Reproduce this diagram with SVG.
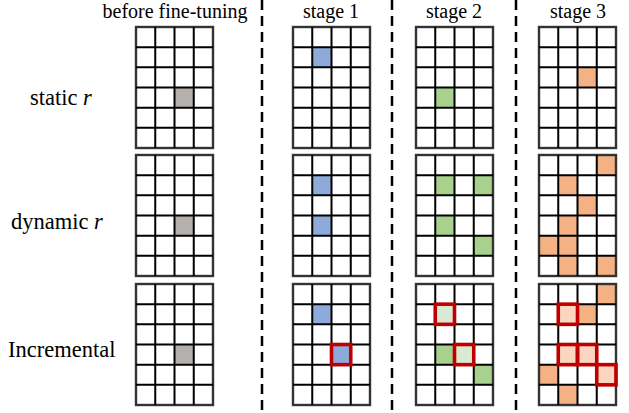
<svg xmlns="http://www.w3.org/2000/svg" xmlns:xlink="http://www.w3.org/1999/xlink" width="629" height="413" viewBox="0 0 629 413">
<style>
text{font-family:"Liberation Serif","Times New Roman",serif;fill:#000}
.hd{font-size:20px;text-anchor:middle}
.rl{font-size:22.5px;font-family:"Liberation Serif","Times New Roman",serif}
.outer{fill:none;stroke:#333;stroke-width:2.4}
.gl{fill:none;stroke:#000;stroke-width:2}
.g{fill:#b4b0ae}
.b{fill:#8eaadb}
.gr{fill:#a9d18e}
.o{fill:#f4b183}
.rb{fill:none;stroke:#c00000;stroke-width:3.6}
.lg{fill:#d9ead3}
.lo{fill:#fbd5c0}
.dash{stroke:#000;stroke-width:2.5;stroke-dasharray:10 6;fill:none}
</style>
<defs>
<g id="grid">
<rect class="outer" x="0" y="0" width="77" height="121"/>
<path class="gl" d="M19.25 0V121M38.5 0V121M57.75 0V121M0 20.17H77M0 40.33H77M0 60.5H77M0 80.67H77M0 100.83H77"/>
</g>
</defs>

<g id="connectors">
<line class="dash" x1="262" y1="0" x2="262" y2="413"/>
<line class="dash" x1="392" y1="0" x2="392" y2="413"/>
<line class="dash" x1="516" y1="0" x2="516" y2="413"/>
</g>

<g id="headers">
<text class="hd" x="175" y="18">before fine-tuning</text>
<text class="hd" x="331" y="18">stage 1</text>
<text class="hd" x="454" y="18">stage 2</text>
<text class="hd" x="578" y="18">stage 3</text>
</g>

<g id="row-labels">
<text class="rl" x="30" y="105" font-family="Liberation Serif, serif">static <tspan font-style="italic">r</tspan></text>
<text class="rl" x="11" y="229" font-family="Liberation Serif, serif">dynamic <tspan font-style="italic">r</tspan></text>
<text class="rl" x="8" y="357" font-family="Liberation Serif, serif">Incremental</text>
</g>

<!-- Row 1: static r -->
<g id="static-before" transform="translate(136,27)">
<rect class="g" x="38.5" y="60.5" width="19.25" height="20.17"/>
<use href="#grid" xlink:href="#grid"/>
</g>
<g id="static-stage1" transform="translate(293,27)">
<rect class="b" x="19.25" y="20.17" width="19.25" height="20.17"/>
<use href="#grid" xlink:href="#grid"/>
</g>
<g id="static-stage2" transform="translate(416,27)">
<rect class="gr" x="19.25" y="60.5" width="19.25" height="20.17"/>
<use href="#grid" xlink:href="#grid"/>
</g>
<g id="static-stage3" transform="translate(539,27)">
<rect class="o" x="38.5" y="40.33" width="19.25" height="20.17"/>
<use href="#grid" xlink:href="#grid"/>
</g>

<!-- Row 2: dynamic r -->
<g id="dynamic-before" transform="translate(136,155)">
<rect class="g" x="38.5" y="60.5" width="19.25" height="20.17"/>
<use href="#grid" xlink:href="#grid"/>
</g>
<g id="dynamic-stage1" transform="translate(293,155)">
<rect class="b" x="19.25" y="20.17" width="19.25" height="20.17"/>
<rect class="b" x="19.25" y="60.5" width="19.25" height="20.17"/>
<use href="#grid" xlink:href="#grid"/>
</g>
<g id="dynamic-stage2" transform="translate(416,155)">
<rect class="gr" x="19.25" y="20.17" width="19.25" height="20.17"/>
<rect class="gr" x="57.75" y="20.17" width="19.25" height="20.17"/>
<rect class="gr" x="19.25" y="60.5" width="19.25" height="20.17"/>
<rect class="gr" x="57.75" y="80.67" width="19.25" height="20.17"/>
<use href="#grid" xlink:href="#grid"/>
</g>
<g id="dynamic-stage3" transform="translate(539,155)">
<rect class="o" x="57.75" y="0" width="19.25" height="20.17"/>
<rect class="o" x="19.25" y="20.17" width="19.25" height="20.17"/>
<rect class="o" x="38.5" y="40.33" width="19.25" height="20.17"/>
<rect class="o" x="19.25" y="60.5" width="19.25" height="20.17"/>
<rect class="o" x="0" y="80.67" width="19.25" height="20.17"/>
<rect class="o" x="19.25" y="80.67" width="19.25" height="20.17"/>
<rect class="o" x="19.25" y="100.83" width="19.25" height="20.17"/>
<rect class="o" x="57.75" y="100.83" width="19.25" height="20.17"/>
<use href="#grid" xlink:href="#grid"/>
</g>

<!-- Row 3: Incremental -->
<g id="incremental-before" transform="translate(136,284)">
<rect class="g" x="38.5" y="60.5" width="19.25" height="20.17"/>
<use href="#grid" xlink:href="#grid"/>
</g>
<g id="incremental-stage1" transform="translate(293,284)">
<rect class="b" x="19.25" y="20.17" width="19.25" height="20.17"/>
<rect class="b" x="38.5" y="60.5" width="19.25" height="20.17"/>
<use href="#grid" xlink:href="#grid"/>
<rect class="rb" x="38.5" y="60.5" width="19.25" height="20.17"/>
</g>
<g id="incremental-stage2" transform="translate(416,284)">
<rect class="lg" x="19.25" y="20.17" width="19.25" height="20.17"/>
<rect class="gr" x="19.25" y="60.5" width="19.25" height="20.17"/>
<rect class="lg" x="38.5" y="60.5" width="19.25" height="20.17"/>
<rect class="gr" x="57.75" y="80.67" width="19.25" height="20.17"/>
<use href="#grid" xlink:href="#grid"/>
<rect class="rb" x="19.25" y="20.17" width="19.25" height="20.17"/>
<rect class="rb" x="38.5" y="60.5" width="19.25" height="20.17"/>
</g>
<g id="incremental-stage3" transform="translate(539,284)">
<rect class="o" x="57.75" y="0" width="19.25" height="20.17"/>
<rect class="lo" x="19.25" y="20.17" width="19.25" height="20.17"/>
<rect class="o" x="38.5" y="20.17" width="19.25" height="20.17"/>
<rect class="lo" x="19.25" y="60.5" width="19.25" height="20.17"/>
<rect class="lo" x="38.5" y="60.5" width="19.25" height="20.17"/>
<rect class="o" x="0" y="80.67" width="19.25" height="20.17"/>
<rect class="lo" x="57.75" y="80.67" width="19.25" height="20.17"/>
<rect class="o" x="19.25" y="100.83" width="19.25" height="20.17"/>
<use href="#grid" xlink:href="#grid"/>
<rect class="rb" x="19.25" y="20.17" width="19.25" height="20.17"/>
<rect class="rb" x="19.25" y="60.5" width="19.25" height="20.17"/>
<rect class="rb" x="38.5" y="60.5" width="19.25" height="20.17"/>
<rect class="rb" x="57.75" y="80.67" width="19.25" height="20.17"/>
</g>
</svg>
